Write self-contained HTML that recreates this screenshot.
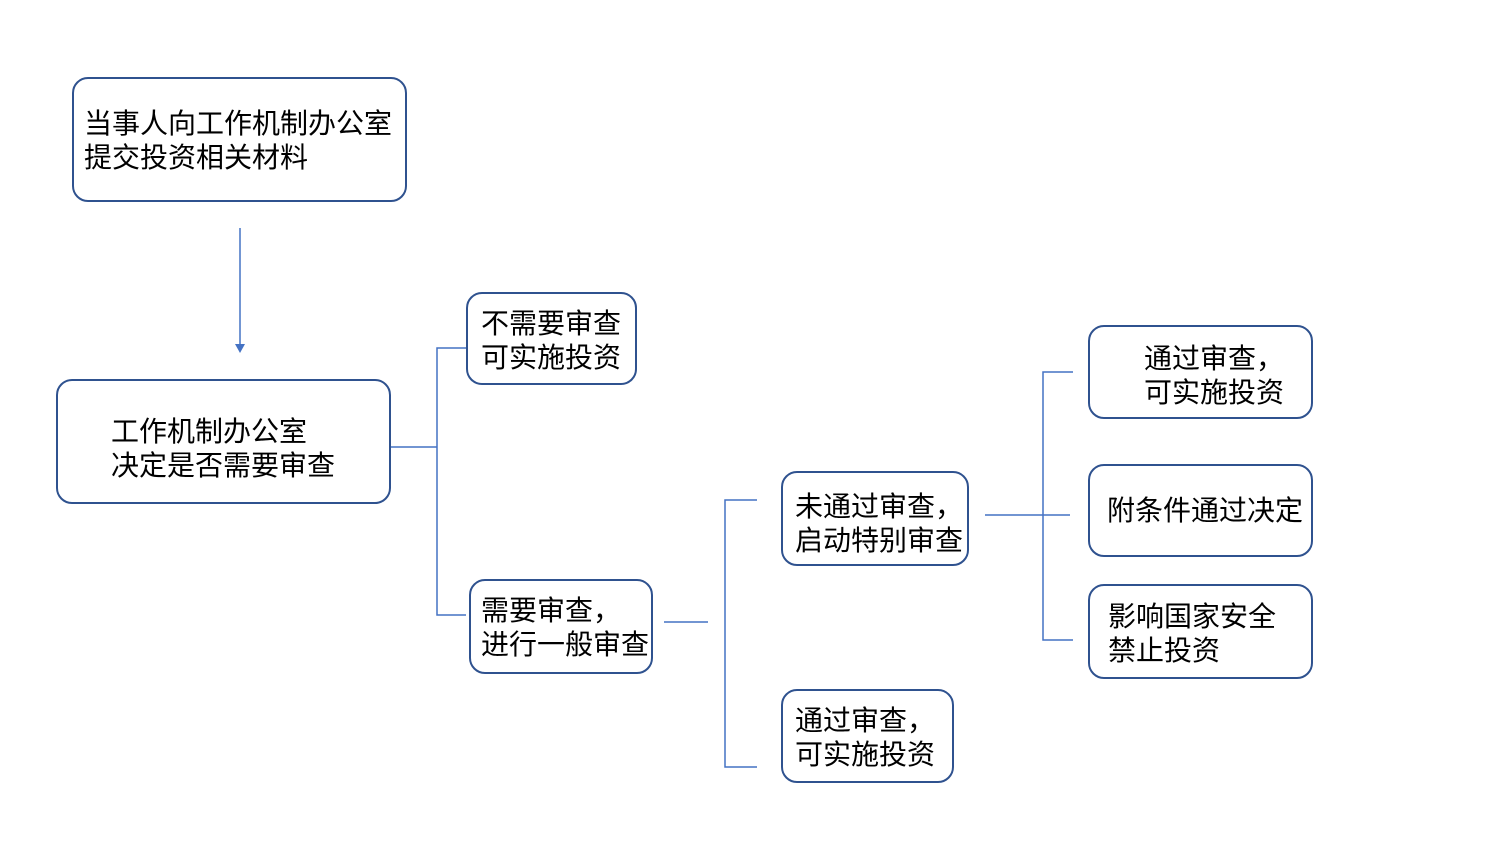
<!DOCTYPE html>
<html><head><meta charset="utf-8"><style>
body{margin:0;width:1500px;height:844px;background:#fff;position:relative;overflow:hidden;font-family:"Liberation Sans","Noto Sans CJK SC",sans-serif;}
.b{position:absolute;box-sizing:border-box;border:2px solid #2F528F;border-radius:16px;font-size:28px;line-height:34px;color:#000;white-space:nowrap;}
.b span{position:absolute;}
svg{position:absolute;left:0;top:0;}
</style></head><body>
<svg width="1500" height="844">
<g stroke="#4472C4" stroke-width="1.5" fill="none">
<line x1="240" y1="228" x2="240" y2="346"/>
<path d="M391 447H437M466 348H437V615H466"/>
<path d="M664 622H708M757 500H725V767H757"/>
<path d="M985 515H1070M1073 372H1043V640H1073"/>
</g>
<polygon points="235,344 245,344 240,353" fill="#4472C4"/>
</svg>
<div class="b" style="left:72px;top:77px;width:335px;height:125px"><span style="left:10px;top:28px">当事人向工作机制办公室<br>提交投资相关材料</span></div>
<div class="b" style="left:56px;top:379px;width:335px;height:125px"><span style="left:53px;top:34px">工作机制办公室<br>决定是否需要审查</span></div>
<div class="b" style="left:466px;top:292px;width:171px;height:93px"><span style="left:13px;top:13px">不需要审查<br>可实施投资</span></div>
<div class="b" style="left:469px;top:579px;width:184px;height:95px"><span style="left:10px;top:13px">需要审查，<br>进行一般审查</span></div>
<div class="b" style="left:781px;top:471px;width:188px;height:95px"><span style="left:12px;top:17px">未通过审查，<br>启动特别审查</span></div>
<div class="b" style="left:781px;top:689px;width:173px;height:94px"><span style="left:12px;top:13px">通过审查，<br>可实施投资</span></div>
<div class="b" style="left:1088px;top:325px;width:225px;height:94px"><span style="left:54px;top:15px">通过审查，<br>可实施投资</span></div>
<div class="b" style="left:1088px;top:464px;width:225px;height:93px"><span style="left:17px;top:28px">附条件通过决定</span></div>
<div class="b" style="left:1088px;top:584px;width:225px;height:95px"><span style="left:18px;top:14px">影响国家安全<br>禁止投资</span></div>
</body></html>
